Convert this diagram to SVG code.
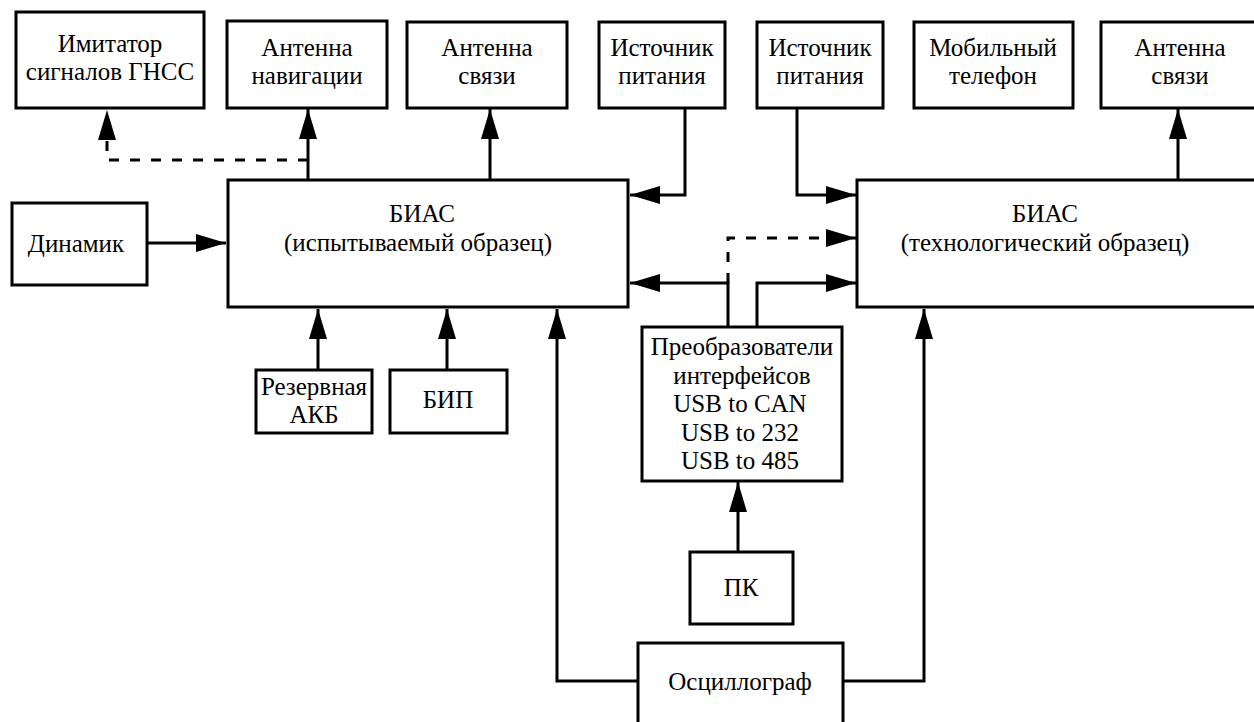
<svg xmlns="http://www.w3.org/2000/svg" width="1254" height="722" viewBox="0 0 1254 722">
<style>
.box{fill:#fff;stroke:#000;stroke-width:3}
.t{font-family:"Liberation Serif","Times New Roman","DejaVu Serif",serif;font-size:25px;fill:#000;text-anchor:middle}
.c{fill:none;stroke:#000;stroke-width:3}
.d{fill:none;stroke:#000;stroke-width:3;stroke-dasharray:10 11}
</style>
<defs>
<marker id="ah" markerUnits="userSpaceOnUse" markerWidth="32" markerHeight="20" refX="30" refY="9" orient="auto" viewBox="0 0 32 20">
<path d="M0,0 L30,9 L0,18 z" fill="#000"/>
</marker>
</defs>
<rect width="1254" height="722" fill="#fff"/>
<g id="connectors">
<path class="c" d="M308,180 V109" marker-end="url(#ah)"/>
<path class="d" d="M308,160 H107 V110" marker-end="url(#ah)"/>
<path class="c" d="M490,180 V109" marker-end="url(#ah)"/>
<path class="c" d="M685,108 V195 H630" marker-end="url(#ah)"/>
<path class="c" d="M797,108 V195 H856" marker-end="url(#ah)"/>
<path class="c" d="M1178,180 V109" marker-end="url(#ah)"/>
<path class="c" d="M147,243 H226" marker-end="url(#ah)"/>
<path class="c" d="M318,370 V309" marker-end="url(#ah)"/>
<path class="c" d="M447,370 V309" marker-end="url(#ah)"/>
<path class="c" d="M728,327 V283 H630" marker-end="url(#ah)"/>
<path class="d" d="M728,283 V238 H856" marker-end="url(#ah)"/>
<path class="c" d="M757,327 V283 H856" marker-end="url(#ah)"/>
<path class="c" d="M738,552 V482" marker-end="url(#ah)"/>
<path class="c" d="M638,681 H557 V309" marker-end="url(#ah)"/>
<path class="c" d="M843,681 H924 V309" marker-end="url(#ah)"/>
</g>
<g id="imitator">
<rect class="box" x="16" y="12" width="188" height="96"/>
<text class="t" x="110" y="52">Имитатор</text>
<text class="t" x="110" y="80">сигналов ГНСС</text>
</g>
<g id="antenna-nav">
<rect class="box" x="227" y="21" width="160" height="87"/>
<text class="t" x="307" y="56">Антенна</text>
<text class="t" x="307" y="84">навигации</text>
</g>
<g id="antenna-link-1">
<rect class="box" x="407" y="22" width="160" height="86"/>
<text class="t" x="487" y="56">Антенна</text>
<text class="t" x="487" y="84">связи</text>
</g>
<g id="power-1">
<rect class="box" x="599" y="22" width="126" height="86"/>
<text class="t" x="662" y="56">Источник</text>
<text class="t" x="662" y="84">питания</text>
</g>
<g id="power-2">
<rect class="box" x="757" y="22" width="126" height="86"/>
<text class="t" x="820" y="56">Источник</text>
<text class="t" x="820" y="84">питания</text>
</g>
<g id="phone">
<rect class="box" x="914" y="22" width="159" height="86"/>
<text class="t" x="993" y="56">Мобильный</text>
<text class="t" x="993" y="84">телефон</text>
</g>
<g id="antenna-link-2">
<rect class="box" x="1101" y="22" width="160" height="86"/>
<text class="t" x="1180" y="56">Антенна</text>
<text class="t" x="1180" y="84">связи</text>
</g>
<g id="dynamic">
<rect class="box" x="12" y="203" width="135" height="82"/>
<text class="t" x="76" y="252">Динамик</text>
</g>
<g id="bias-test">
<rect class="box" x="228" y="180" width="400" height="127"/>
<text class="t" x="422" y="222">БИАС</text>
<text class="t" x="418" y="251">(испытываемый образец)</text>
</g>
<g id="bias-tech">
<rect class="box" x="857" y="180" width="410" height="127"/>
<text class="t" x="1045" y="222">БИАС</text>
<text class="t" x="1045" y="251">(технологический образец)</text>
</g>
<g id="battery">
<rect class="box" x="256" y="370" width="116" height="63"/>
<text class="t" x="314" y="395">Резервная</text>
<text class="t" x="314" y="423">АКБ</text>
</g>
<g id="bip">
<rect class="box" x="390" y="370" width="117" height="63"/>
<text class="t" x="448" y="408">БИП</text>
</g>
<g id="converters">
<rect class="box" x="642" y="327" width="200" height="154"/>
<text class="t" x="742" y="355">Преобразователи</text>
<text class="t" x="742" y="384">интерфейсов</text>
<text class="t" x="740" y="412">USB to CAN</text>
<text class="t" x="740" y="441">USB to 232</text>
<text class="t" x="740" y="469">USB to 485</text>
</g>
<g id="pc">
<rect class="box" x="690" y="552" width="103" height="72"/>
<text class="t" x="741" y="596">ПК</text>
</g>
<g id="oscilloscope">
<rect class="box" x="638" y="643" width="205" height="85"/>
<text class="t" x="740" y="690">Осциллограф</text>
</g>
</svg>
